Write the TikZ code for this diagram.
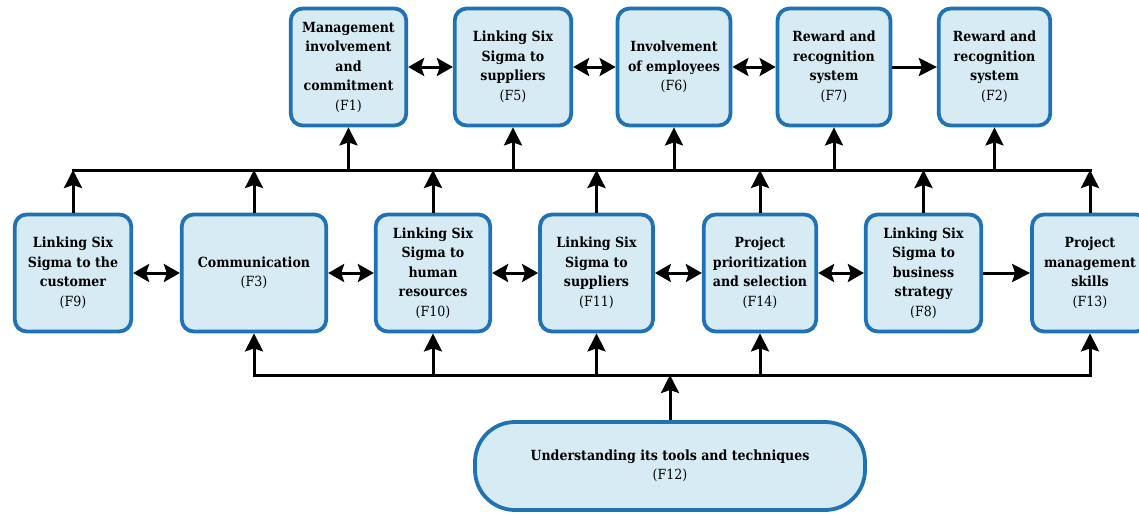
\documentclass[tikz,border=0pt]{standalone}
\usepackage{fontspec}
\setmainfont{DejaVu Serif Condensed}
\usepackage{xcolor}
\usetikzlibrary{arrows.meta, positioning}

\definecolor{factorfill}{HTML}{D7EBF4}
\definecolor{factorline}{HTML}{1F72B5}

\begin{document}
\begin{tikzpicture}[
    x=1pt, y=-1pt,
    factor/.style={draw=factorline, fill=factorfill, line width=3.8pt, rounded corners=12pt,
      minimum width=113pt, minimum height=117pt, inner sep=2pt, align=center,
      font=\fontsize{14}{19.5}\selectfont\bfseries},
    base/.style={factor, rounded corners=40pt, minimum width=390pt, minimum height=88pt},
    bus/.style={line width=3pt, line cap=rect},
    arr/.style={-{Stealth[length=18pt, width=18pt, inset=3pt]}, line width=3pt},
    darr/.style={{Stealth[length=16pt, width=18pt, inset=3pt]}-{Stealth[length=16pt, width=18pt, inset=3pt]}, line width=3pt}
  ]
  \useasboundingbox (0,0) rectangle (1139,514);
  % Upper row
  \node[factor, minimum width=115.5pt] (f1) at (348.5,67) {Management\\involvement\\and\\commitment\\\mdseries(F1)};
  \node[factor, minimum width=116.5pt] (f5) at (513,67) {Linking Six\\Sigma to\\suppliers\\\mdseries(F5)};
  \node[factor] (f6) at (674,67) {Involvement\\of employees\\\mdseries(F6)};
  \node[factor] (f7) at (834,67) {Reward and\\recognition\\system\\\mdseries(F7)};
  \node[factor, minimum width=111.5pt] (f2) at (994.5,67) {Reward and\\recognition\\system\\\mdseries(F2)};
  % Middle row
  \node[factor, minimum width=116.5pt] (f9) at (73,273) {Linking Six\\Sigma to the\\customer\\\mdseries(F9)};
  \node[factor, minimum width=144.5pt] (f3) at (254,273) {Communication\\\mdseries(F3)};
  \node[factor, minimum width=114.5pt] (f10) at (433,273) {Linking Six\\Sigma to\\human\\resources\\\mdseries(F10)};
  \node[factor] (f11) at (596.5,273) {Linking Six\\Sigma to\\suppliers\\\mdseries(F11)};
  \node[factor, minimum width=112.5pt] (f14) at (760,273) {Project\\prioritization\\and selection\\\mdseries(F14)};
  \node[factor, minimum width=115.5pt] (f8) at (923.5,273) {Linking Six\\Sigma to\\business\\strategy\\\mdseries(F8)};
  \node[factor, minimum width=116pt] (f13) at (1090,273) {Project\\management\\skills\\\mdseries(F13)};
  % Base factor
  \node[base] (f12) at (670,466) {Understanding its tools and techniques\\\mdseries(F12)};

  % Bus lines
  \coordinate (topbus) at (0,170);
  \coordinate (lowbus) at (0,375);
  \draw[bus] (f9.north |- topbus) -- (f13.north |- topbus);
  \draw[bus] (f3.south |- lowbus) -- (f13.south |- lowbus);

  % Links along the rows
  \draw[darr] (f1) -- (f5);
  \draw[darr] (f5) -- (f6);
  \draw[darr] (f6) -- (f7);
  \draw[arr] (f7) -- (f2);
  \draw[darr] (f9) -- (f3);
  \draw[darr] (f3) -- (f10);
  \draw[darr] (f10) -- (f11);
  \draw[darr] (f11) -- (f14);
  \draw[darr] (f14) -- (f8);
  \draw[arr] (f8) -- (f13);

  % Middle row up to the upper bus
  \foreach \f in {f9, f3, f10, f11, f14, f8, f13}
    \draw[arr] (\f.north) -- (\f.north |- topbus);
  % Upper bus up to the upper row
  \foreach \f in {f1, f5, f6, f7, f2}
    \draw[arr] (\f.south |- topbus) -- (\f.south);
  % Lower bus up to the middle row
  \foreach \f in {f3, f10, f11, f14, f13}
    \draw[arr] (\f.south |- lowbus) -- (\f.south);
  \draw[arr] (f12.north) -- (f12.north |- lowbus);
\end{tikzpicture}
\end{document}
